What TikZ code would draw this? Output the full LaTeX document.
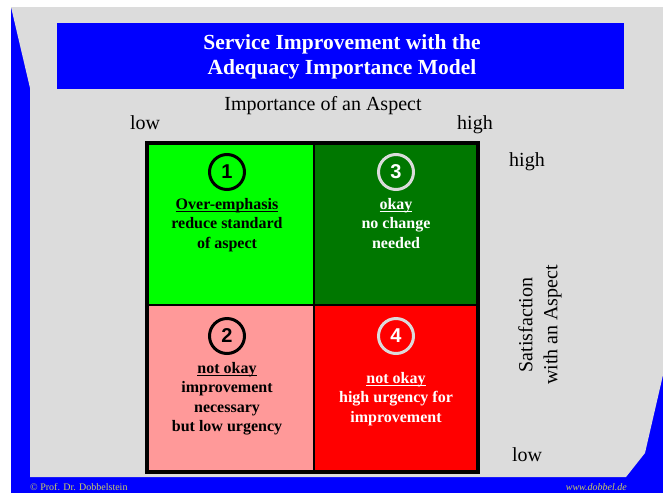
\documentclass[tikz,border=0pt]{standalone}
\usepackage{fontspec}
\setmainfont{Liberation Serif}
\newfontfamily\numfont{Liberation Sans}
\usetikzlibrary{positioning}
\definecolor{slidegray}{RGB}{220,220,220}
\definecolor{slideblue}{RGB}{0,0,255}
\definecolor{lightgreen}{RGB}{0,255,0}
\definecolor{darkgreen}{RGB}{0,119,0}
\definecolor{lightred}{RGB}{255,153,153}
\definecolor{footeryellow}{RGB}{204,204,102}
\newlength\headwd
\newcommand\thickul[1]{\settowidth\headwd{#1}\rlap{\rule[-2.8pt]{\headwd}{1.5pt}}#1}
\begin{document}
\begin{tikzpicture}[x=1pt,y=-1pt,
slide/.style={fill=slidegray},
band/.style={fill=slideblue},
divider/.style={draw=black,line width=2pt},
outerframe/.style={draw=black,line width=4pt},
num/.style={circle,draw,line width=3pt,minimum size=35pt,inner sep=0pt,font=\numfont\bfseries\fontsize{20}{20}\selectfont},
darknum/.style={num,draw={black!14},text=white},
verdict/.style={align=center,inner sep=0pt,font=\bfseries\fontsize{16}{19.5}\selectfont},
axistext/.style={inner sep=0pt,anchor=base,font=\fontsize{20}{20}\selectfont},
footer/.style={inner sep=0pt,text=footeryellow,font=\fontsize{10}{10}\selectfont},
]
\useasboundingbox (0,0) rectangle (663,493);
\path[band] (11,7) rectangle (663,493);
\path[slide] (11,7) -- (663,7) -- (663,375) -- (645,453) -- (626,477)
    -- (30,477) -- (30,88) -- cycle;
\path[band] (57,23) rectangle (624,89);
\node[text=white,align=center,font=\bfseries\fontsize{21.5}{25}\selectfont] (title)
    at (342,57) {Service Improvement with the\\Adequacy Importance Model};
\fill[lightgreen] (147,143) rectangle (314,305);
\fill[darkgreen] (314,143) rectangle (478,305);
\fill[lightred] (147,305) rectangle (314,472);
\fill[red] (314,305) rectangle (478,472);
\path[divider]
    (314,143) -- (314,472)
    (147,305) -- (478,305);
\path[outerframe] (147,143) rectangle (478,472);
\node[num] (one) at (227,172) {1};
\node[darknum] (three) at (396,172) {3};
\node[num] (two) at (227,336) {2};
\node[darknum] (four) at (396,336) {4};
\node[verdict,below=7pt of one] (overemph)
    {\thickul{Over-emphasis}\\reduce standard\\of aspect};
\node[verdict,text=white,below=7pt of three] (okay)
    {\thickul{okay}\\no change\\needed};
\node[verdict,below=7pt of two] (lowurgency)
    {\thickul{not okay}\\improvement\\necessary\\but low urgency};
\node[verdict,text=white,below=17pt of four] (highurgency)
    {\thickul{not okay}\\high urgency for\\improvement};
\node[axistext] (importance) at (323,110) {Importance of an Aspect};
\node[axistext] (implow) at (145,129) {low};
\node[axistext] (imphigh) at (475,129) {high};
\node[axistext] (sathigh) at (527,166) {high};
\node[axistext] (satlow) at (527,461) {low};
\node[axistext,anchor=center,rotate=90,align=center,font=\fontsize{20}{25}\selectfont] (satisfaction)
    at (540,325) {Satisfaction\\with an Aspect};
\node[footer,anchor=west] (copyright) at (30,487) {© Prof. Dr. Dobbelstein};
\node[footer,anchor=east,font=\itshape\fontsize{10}{10}\selectfont] (website)
    at (627,487) {www.dobbel.de};
\end{tikzpicture}
\end{document}
